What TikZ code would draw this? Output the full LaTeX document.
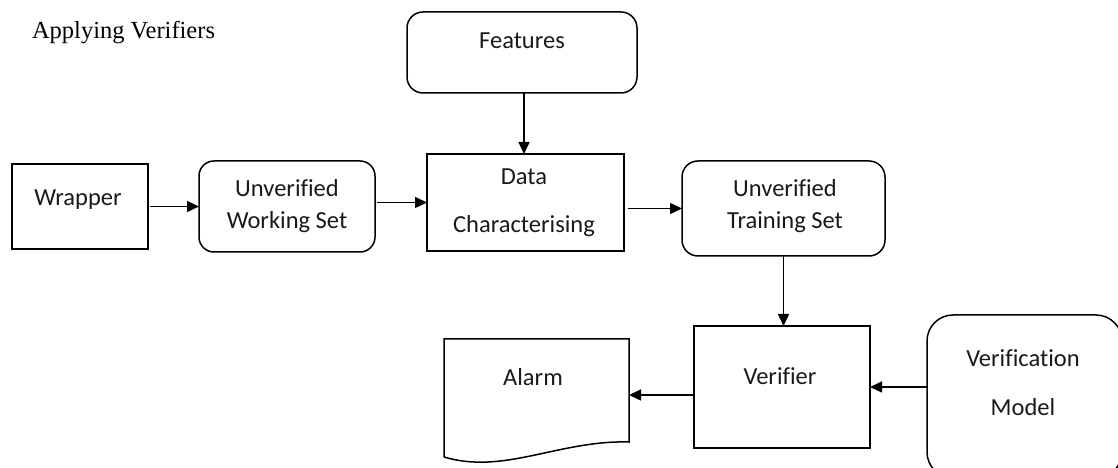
\documentclass[tikz,border=0pt]{standalone}
\usepackage{fontspec}
\setmainfont[Ligatures=NoCommon]{Carlito}
\newfontfamily\titlefont{Liberation Serif}
\usetikzlibrary{arrows.meta,calc}

\tikzset{
  x=1bp, y=-1bp,
  every node/.style={inner sep=0pt, outer sep=0pt},
  plainbox/.style={draw, line width=1.5bp, rectangle},
  roundbox/.style={draw, line width=1.5bp, rectangle, rounded corners=#1},
  roundbox/.default=16bp,
  lbl/.style={anchor=base, font=\fontsize{24.5bp}{30bp}\selectfont, text=black!90},
  arr/.style={line width=1.5bp, -{Triangle[length=12bp,width=11bp]}},
}

\begin{document}
\begin{tikzpicture}
\path[use as bounding box] (0,0) rectangle (1118,468);
\clip (0,0) rectangle (1118,468);

% title
\node[anchor=base west, font=\titlefont\fontsize{24.5bp}{30bp}\selectfont] (title) at (32,39) {Applying Verifiers};

% boxes
\node[plainbox, minimum width=136bp, minimum height=85bp] (wrapper) at (80,206.5) {};
\node[roundbox=15bp, minimum width=176bp, minimum height=91bp] (uws) at (287,206.5) {};
\node[plainbox, minimum width=197bp, minimum height=97bp] (dc) at (525.5,202.5) {};
\node[roundbox=16bp, minimum width=230bp, minimum height=81bp] (features) at (522,52.5) {};
\node[roundbox=16bp, minimum width=203bp, minimum height=95bp] (uts) at (783.5,208.5) {};
\node[plainbox, minimum width=176bp, minimum height=122bp] (verifier) at (782,387) {};
\node[roundbox=26bp, minimum width=195bp, minimum height=163bp] (vm) at (1024.5,396.5) {};

% document shape for the alarm output
\node[minimum width=185bp, minimum height=118bp] (alarm) at (536.5,398) {};
\draw[line width=1.5bp]
  (alarm.south west) -- (alarm.north west) -- (alarm.north east)
  -- ($(alarm.south east)+(0,-15)$)
  .. controls ($(alarm.south east)+(-70,-17)$) and ($(alarm.south west)+(60,18)$)
  .. (alarm.south west);

% labels
\node[lbl] (tfeat) at (522,49) {Features};
\node[lbl] (twrap) at (78,206) {Wrapper};
\node[lbl] (tuws1) at (287,197) {Unverified};
\node[lbl] (tuws2) at (287,229) {Working Set};
\node[lbl] (tdc1) at (524,185) {Data};
\node[lbl] (tdc2) at (524,233) {Characterising};
\node[lbl] (tuts1) at (785,197) {Unverified};
\node[lbl] (tuts2) at (785,229) {Training Set};
\node[lbl] (tver) at (780,385) {Verifier};
\node[lbl] (tvm1) at (1023,367) {Verification};
\node[lbl] (tvm2) at (1023,416) {Model};
\node[lbl] (talarm) at (533,386) {Alarm};

% connector end points
\coordinate (fbot) at ($(features.south)+(2,0)$);
\coordinate (dctop) at (fbot |- dc.north);

% connectors
\draw[arr, shorten <=2bp] (wrapper) -- (uws);
\draw[arr, shorten <=2bp] (uws.east |- dc) -- (dc.west);
\draw[arr, shorten <=4bp] (dc.east |- uts) -- (uts.west);
\draw[arr] (fbot) -- (dctop);
\draw[arr] (uts.south) -- (uts.south |- verifier.north);
\draw[arr] (verifier.west |- 0,395) -- (alarm.east |- 0,395);
\draw[arr] (vm.west |- verifier) -- (verifier.east);
\end{tikzpicture}
\end{document}
